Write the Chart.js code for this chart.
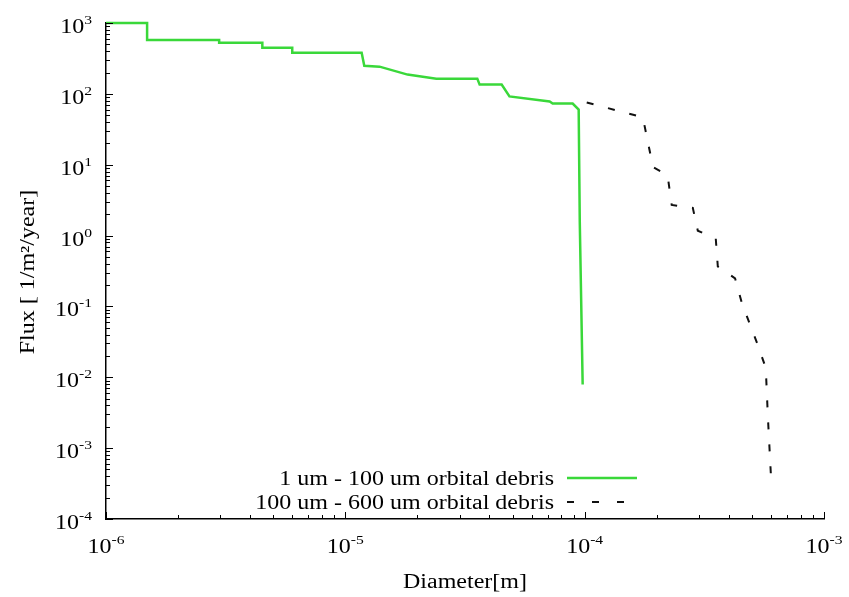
<!DOCTYPE html>
<html>
<head>
<meta charset="utf-8">
<script src="https://cdn.jsdelivr.net/npm/chart.js@4"></script>
<style>
  body { margin: 0; background: #fff; }
</style>
</head>
<body>
<canvas id="chart" width="849" height="597"></canvas>
<script>
// 1 um - 100 um orbital debris (green, stepped)
const smallDiam = [1e-6, 1.485e-6, 1.485e-6, 2.97e-6, 2.97e-6, 4.5e-6, 4.5e-6, 6.0e-6, 6.0e-6, 1.17e-5, 1.2e-5, 1.39e-5, 1.82e-5, 2.4e-5, 3.56e-5, 3.64e-5, 4.5e-5, 4.85e-5, 7.14e-5, 7.35e-5, 8.91e-5, 9.44e-5, 9.54e-5, 9.81e-5];
const smallFlux = [1000, 1000, 575, 575, 525, 525, 447, 447, 380, 380, 249, 242, 187, 164, 164, 135, 135, 92, 78, 73, 73, 60, 1.57, 0.0079];

// 100 um - 600 um orbital debris (black, dashed)
const bigDiam = [1.02e-4, 1.75e-4, 1.93e-4, 2.22e-4, 2.31e-4, 2.83e-4, 2.97e-4, 3.53e-4, 3.6e-4, 4.25e-4, 4.54e-4, 5.25e-4, 5.71e-4, 5.83e-4, 6.0e-4];
const bigFlux = [75.5, 46.6, 9.25, 7.14, 2.71, 2.46, 1.17, 0.906, 0.366, 0.249, 0.111, 0.0305, 0.0136, 0.0027, 0.000416];

const seriesNames = ['1 um - 100 um orbital debris', '100 um - 600 um orbital debris'];
const xExps = [-6, -5, -4, -3];
const yExps = [-4, -3, -2, -1, 0, 1, 2, 3];
const xTitle = 'Diameter[m]';
const yTitle = 'Flux [ 1/m\u00b2/year]';

const green = '#3ad83a';
const font = '"Liberation Serif", "Times New Roman", serif';
const SX = 1.2; // picture looks stretched sideways

function toPts(xs, ys) {
  return xs.map((v, i) => ({ x: v, y: ys[i] }));
}

// text drawn with a sideways stretch, align: left/right/center
function stretchText(ctx, txt, x, y, size, align) {
  ctx.save();
  ctx.font = size + 'px ' + font;
  const w = ctx.measureText(txt).width * SX;
  let x0 = x;
  if (align === 'right') x0 = x - w;
  if (align === 'center') x0 = x - w / 2;
  ctx.translate(x0, y);
  ctx.scale(SX, 1);
  ctx.textAlign = 'left';
  ctx.textBaseline = 'alphabetic';
  ctx.fillText(txt, 0, 0);
  ctx.restore();
  return w;
}

function powLabel(ctx, e, x, y, align) {
  ctx.font = '20px ' + font;
  const wb = ctx.measureText('10').width * SX;
  ctx.font = '13px ' + font;
  const we = ctx.measureText(String(e)).width * SX;
  const tot = wb + we;
  let x0 = x;
  if (align === 'right') x0 = x - tot;
  if (align === 'center') x0 = x - tot / 2;
  stretchText(ctx, '10', x0, y, 20, 'left');
  stretchText(ctx, String(e), x0 + wb, y - 9, 13, 'left');
}

const deco = {
  id: 'deco',
  afterDraw(chart) {
    const { ctx, chartArea: a, scales } = chart;
    const sx = scales.x, sy = scales.y;
    ctx.save();
    ctx.strokeStyle = '#000';
    ctx.fillStyle = '#000';
    ctx.lineWidth = 1;
    ctx.beginPath();
    // inward ticks
    for (let e = -6; e <= -3; e++) {
      for (let m = 1; m <= 9; m++) {
        if (e === -3 && m > 1) break;
        const px = Math.round(sx.getPixelForValue(m * Math.pow(10, e))) + 0.5;
        ctx.moveTo(px, a.bottom);
        ctx.lineTo(px, a.bottom - (m === 1 ? 7 : 4));
      }
    }
    for (let e = -4; e <= 3; e++) {
      for (let m = 1; m <= 9; m++) {
        if (e === 3 && m > 1) break;
        const py = Math.round(sy.getPixelForValue(m * Math.pow(10, e))) + 0.5;
        ctx.moveTo(a.left, py);
        ctx.lineTo(a.left + (m === 1 ? 7 : 4), py);
      }
    }
    ctx.stroke();

    xExps.forEach(e => powLabel(ctx, e, sx.getPixelForValue(Math.pow(10, e)), a.bottom + 34, 'center'));
    yExps.forEach(e => powLabel(ctx, e, a.left - 14, sy.getPixelForValue(Math.pow(10, e)) + 10, 'right'));

    // axis titles
    stretchText(ctx, xTitle, (a.left + a.right) / 2, 588, 20, 'center');
    ctx.save();
    ctx.translate(34, 272);
    ctx.rotate(-Math.PI / 2);
    ctx.scale(SX, 1);
    ctx.font = '20px ' + font;
    ctx.textAlign = 'center';
    ctx.fillText(yTitle, 0, 0);
    ctx.restore();

    // legend, text right of which sits the sample line
    const tx = 554, lx0 = 567, lx1 = 637;
    stretchText(ctx, seriesNames[0], tx, 485, 20, 'right');
    stretchText(ctx, seriesNames[1], tx, 509, 20, 'right');
    ctx.lineWidth = 2.5;
    ctx.strokeStyle = green;
    ctx.beginPath();
    ctx.moveTo(lx0, 478);
    ctx.lineTo(lx1, 478);
    ctx.stroke();
    ctx.lineWidth = 2;
    ctx.strokeStyle = '#111';
    ctx.setLineDash([7, 18]);
    ctx.beginPath();
    ctx.moveTo(lx0, 502);
    ctx.lineTo(lx1, 502);
    ctx.stroke();
    ctx.restore();
  }
};

new Chart(document.getElementById('chart'), {
  type: 'line',
  data: {
    datasets: [
      {
        label: seriesNames[0],
        data: toPts(smallDiam, smallFlux),
        borderColor: green,
        borderWidth: 2.5,
        pointRadius: 0,
        tension: 0,
        clip: 6
      },
      {
        label: seriesNames[1],
        data: toPts(bigDiam, bigFlux),
        borderColor: '#111',
        borderWidth: 2,
        borderDash: [7, 15],
        pointRadius: 0,
        tension: 0,
        clip: 6
      }
    ]
  },
  options: {
    responsive: false,
    animation: false,
    layout: { padding: { left: 98, right: 25, top: 23, bottom: 70 } },
    plugins: { legend: { display: false }, tooltip: { enabled: false } },
    scales: {
      x: {
        type: 'logarithmic',
        min: 1e-6,
        max: 1e-3,
        grid: { display: false },
        ticks: { display: false },
        border: { display: true, color: '#000', width: 1.5 }
      },
      y: {
        type: 'logarithmic',
        min: 1e-4,
        max: 1e3,
        grid: { display: false },
        ticks: { display: false },
        border: { display: true, color: '#000', width: 1.5 }
      }
    }
  },
  plugins: [deco]
});
</script>
</body>
</html>
